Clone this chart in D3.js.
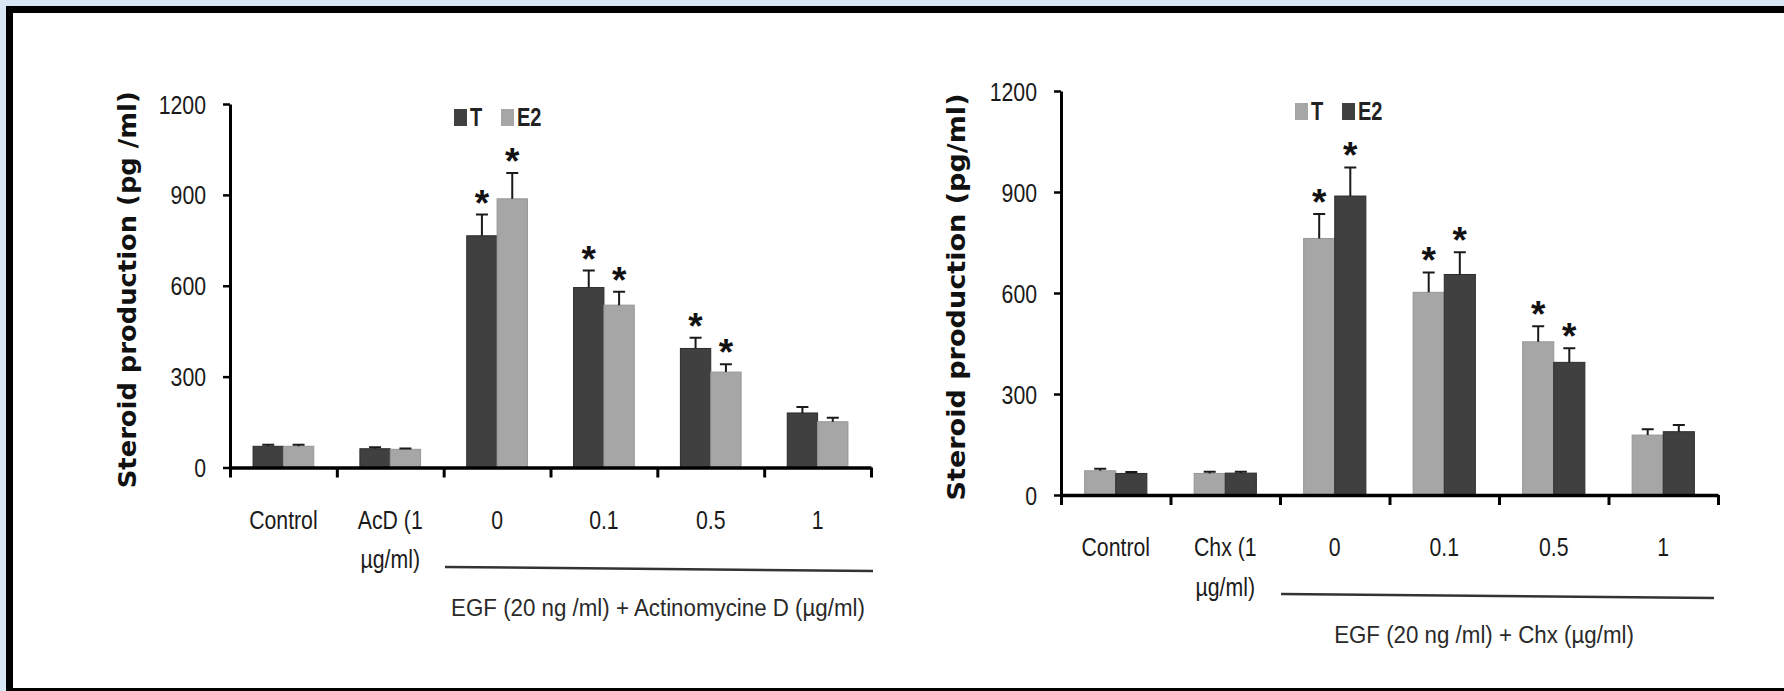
<!DOCTYPE html>
<html>
<head>
<meta charset="utf-8">
<script src="https://cdn.jsdelivr.net/npm/d3@7/dist/d3.min.js"></script>
<style>
  body { margin: 0; background: #d8e6f3; }
  svg { display: block; }
  .tick_label, .cat_label, .legend_label, .group_label { font-family: "Liberation Sans", Arial, sans-serif; fill: #1a1a1a; }
  .legend_label { font-weight: bold; fill: #222; }
  .group_label { fill: #2a2a2a; }
  .star { font-family: "Liberation Sans", Arial, sans-serif; font-weight: bold; fill: #111; }
  .y_title { font-family: "DejaVu Sans", sans-serif; font-weight: bold; fill: #111; }
  .err { stroke: #1a1a1a; stroke-width: 2; fill: none; }
</style>
</head>
<body>
<div id="figure"></div>
<script>
var seriesNames = ["T", "E2"]
var yTicks = [0, 300, 600, 900, 1200]
var darkFill = "#404040"
var lightFill = "#a6a6a6"

// Left panel: EGF + actinomycine D
var actCategories = ["Control", "AcD (1\nµg/ml)", "0", "0.1", "0.5", "1"]
var actT = [70, 62, 765, 594, 393, 180]
var actTErr = [5, 5, 70, 56, 35, 20]
var actTStar = [false, false, true, true, true, false]
var actE2 = [70, 60, 887, 536, 315, 151]
var actE2Err = [5, 3, 85, 44, 26, 13]
var actE2Star = [false, false, true, true, true, false]

// Right panel: EGF + cycloheximide
var chxCategories = ["Control", "Chx (1\nµg/ml)", "0", "0.1", "0.5", "1"]
var chxT = [72, 64, 762, 602, 455, 178]
var chxTErr = [6, 5, 73, 59, 46, 17]
var chxTStar = [false, false, true, true, true, false]
var chxE2 = [64, 65, 888, 655, 394, 188]
var chxE2Err = [4, 4, 85, 66, 42, 20]
var chxE2Star = [false, false, true, true, true, false]

// the original font is tall and narrow, squeeze the substitute horizontally
var TEXT_SX = 0.85
var TEXT_SIZE = 25

var BarPanel = function(svg, opts) {
  var _self = this

  _self.svg = svg
  _self.opts = opts
  _self.g = svg.append("g").attr("class", "panel")

  _self.x = d3.scaleBand()
    .domain(opts.categories)
    .range([opts.left, opts.right])
  _self.xEdge = d3.scaleLinear()
    .domain([0, opts.categories.length])
    .range([opts.left, opts.right])
  _self.xSeries = d3.scaleBand()
    .domain(seriesNames)
    .range([0, _self.x.bandwidth()])
    .paddingOuter(0.76)
  _self.y = d3.scaleLinear()
    .domain([0, 1200])
    .range([opts.bottom, opts.top])

  _self.drawBars()
  _self.drawAxes()
  _self.drawLabels()
  _self.drawLegend()
}

BarPanel.prototype.drawBars = function drawBars() {
  var _self = this
  var x = _self.x, xs = _self.xSeries, y = _self.y

  _self.opts.series.forEach(function (s) {
    var rows = _self.opts.categories.map(function (c, i) {
      return { cat: c, value: s.values[i], err: s.errors[i], star: s.stars[i] }
    })
    var sg = _self.g.append("g").attr("class", "series")

    sg.selectAll("rect")
      .data(rows)
      .enter().append("rect")
        .attr("x", function (d) { return x(d.cat) + xs(s.name) })
        .attr("y", function (d) { return y(d.value) })
        .attr("width", xs.bandwidth())
        .attr("height", function (d) { return y(0) - y(d.value) })
        .attr("fill", s.color)
        .attr("stroke", s.color == darkFill ? "#2c2c2c" : "#969696")
        .attr("stroke-width", 1)

    var cx = function (d) { return x(d.cat) + xs(s.name) + xs.bandwidth() / 2 }

    sg.selectAll("path.err")
      .data(rows)
      .enter().append("path")
        .attr("class", "err")
        .attr("d", function (d) {
          var c = cx(d), top = y(d.value + d.err)
          return "M" + c + "," + y(d.value) + "V" + top + "M" + (c - 6) + "," + top + "H" + (c + 6)
        })

    // star glyph sits about 0.53em above its baseline
    sg.selectAll("text.star")
      .data(rows.filter(function (d) { return d.star }))
      .enter().append("text")
        .attr("class", "star")
        .attr("x", cx)
        .attr("y", function (d) { return y(d.value + d.err) + 1 })
        .attr("text-anchor", "middle")
        .attr("font-size", 37)
        .text("*")
  })
}

BarPanel.prototype.drawAxes = function drawAxes() {
  var _self = this
  var opts = _self.opts

  var yAxis = _self.g.append("g")
    .attr("transform", "translate(" + opts.left + ",0)")
    .call(d3.axisLeft(_self.y)
      .tickValues(yTicks)
      .tickSize(7)
      .tickSizeOuter(0)
      .tickFormat(d3.format("d")))
    .attr("font-size", null)
    .attr("font-family", null)
  yAxis.select(".domain").attr("stroke", "#000").attr("stroke-width", 3)
  yAxis.selectAll(".tick line").attr("stroke", "#000").attr("stroke-width", 2.5)
  yAxis.selectAll(".tick text")
    .attr("class", "tick_label")
    .attr("font-size", TEXT_SIZE)
    .attr("fill", null)
    .attr("x", -24 / TEXT_SX)
    .attr("dy", "0.36em")
    .attr("transform", "scale(" + TEXT_SX + ",1)")

  var xAxis = _self.g.append("g")
    .attr("transform", "translate(0," + opts.bottom + ")")
    .call(d3.axisBottom(_self.xEdge)
      .tickValues(d3.range(opts.categories.length + 1))
      .tickSize(10)
      .tickSizeOuter(0)
      .tickFormat(""))
  xAxis.select(".domain").attr("stroke", "#000").attr("stroke-width", 3.5)
  xAxis.selectAll(".tick line").attr("stroke", "#000").attr("stroke-width", 3)
}

BarPanel.prototype.drawLabels = function drawLabels() {
  var _self = this
  var opts = _self.opts

  opts.categories.forEach(function (c) {
    var lines = c.split("\n")
    var cg = _self.g.append("g")
      .attr("transform", "translate(" + (_self.x(c) + _self.x.bandwidth() / 2) + "," + (opts.bottom + 61) + ")")
    cg.append("text")
      .attr("class", "cat_label")
      .attr("text-anchor", "middle")
      .attr("font-size", TEXT_SIZE)
      .attr("transform", "scale(" + TEXT_SX + ",1)")
      .selectAll("tspan")
      .data(lines)
      .enter().append("tspan")
        .attr("x", 0)
        .attr("y", function (d, i) { return i * 40 })
        .text(function (d) { return d })
  })

  // treatment bracket line under the EGF groups
  var l = opts.bracket
  _self.g.append("line")
    .attr("x1", l[0]).attr("y1", l[1])
    .attr("x2", l[2]).attr("y2", l[3])
    .attr("stroke", "#333")
    .attr("stroke-width", 2.5)

  _self.g.append("g")
    .attr("transform", "translate(" + opts.groupLabelX + "," + (opts.bottom + 148) + ")")
    .append("text")
      .attr("class", "group_label")
      .attr("text-anchor", "middle")
      .attr("font-size", 24)
      .attr("transform", "scale(0.93,1)")
      .text(opts.groupLabel)

  _self.g.append("text")
    .attr("class", "y_title")
    .attr("transform", "translate(" + opts.titleX + "," + ((opts.top + opts.bottom) / 2 + 4) + ") rotate(-90)")
    .attr("text-anchor", "middle")
    .attr("font-size", 25)
    .attr("textLength", opts.titleLength)
    .attr("lengthAdjust", "spacingAndGlyphs")
    .text(opts.yTitle)
}

BarPanel.prototype.drawLegend = function drawLegend() {
  var _self = this
  var opts = _self.opts

  opts.series.forEach(function (s, i) {
    var lx = opts.legendX + i * 47
    _self.g.append("rect")
      .attr("x", lx)
      .attr("y", opts.legendY)
      .attr("width", 13)
      .attr("height", 17)
      .attr("fill", s.color)
    _self.g.append("g")
      .attr("transform", "translate(" + (lx + 16) + "," + (opts.legendY + 17) + ")")
      .append("text")
        .attr("class", "legend_label")
        .attr("font-size", TEXT_SIZE)
        .attr("transform", "scale(0.8,1)")
        .text(s.name)
  })
}

var W = 1784, H = 691
var svg = d3.select("#figure").append("svg")
  .attr("width", W)
  .attr("height", H)

// page frame
svg.append("rect").attr("width", W).attr("height", H).attr("fill", "#d8e6f3")
svg.append("rect").attr("x", 6).attr("y", 6).attr("width", W).attr("height", H).attr("fill", "#000")
svg.append("rect").attr("x", 13).attr("y", 13).attr("width", W).attr("height", 675).attr("fill", "#fff")

new BarPanel(svg, {
  categories: actCategories,
  left: 230, right: 871, top: 104, bottom: 467.5,
  series: [
    { name: "T", values: actT, errors: actTErr, stars: actTStar, color: darkFill },
    { name: "E2", values: actE2, errors: actE2Err, stars: actE2Star, color: lightFill }
  ],
  legendX: 454, legendY: 109,
  bracket: [445, 567, 873, 571],
  groupLabel: "EGF (20 ng /ml) + Actinomycine D (µg/ml)",
  groupLabelX: 658,
  yTitle: "Steroid production (pg /ml)",
  titleX: 136, titleLength: 397
})

new BarPanel(svg, {
  categories: chxCategories,
  left: 1061, right: 1718, top: 91, bottom: 495,
  series: [
    { name: "T", values: chxT, errors: chxTErr, stars: chxTStar, color: lightFill },
    { name: "E2", values: chxE2, errors: chxE2Err, stars: chxE2Star, color: darkFill }
  ],
  legendX: 1295, legendY: 103,
  bracket: [1281, 594, 1714, 598],
  groupLabel: "EGF (20 ng /ml) + Chx (µg/ml)",
  groupLabelX: 1484,
  yTitle: "Steroid production (pg/ml)",
  titleX: 965, titleLength: 407
})
</script>
</body>
</html>
